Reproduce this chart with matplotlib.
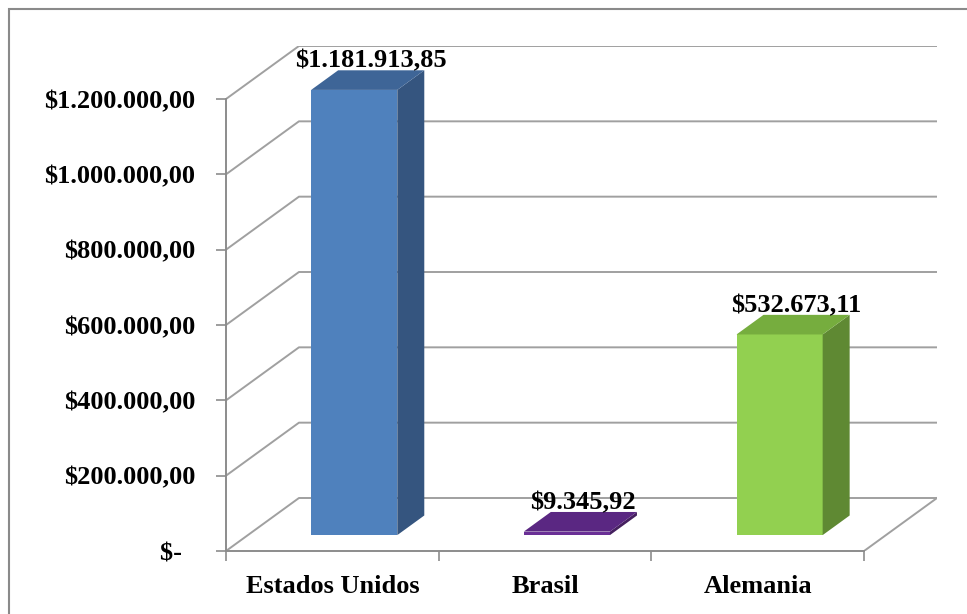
import matplotlib

matplotlib.use("Agg")
import matplotlib.pyplot as plt
from matplotlib.patches import Polygon, Rectangle

paises = ["Estados Unidos", "Brasil", "Alemania"]
montos = [1181913.85, 9345.92, 532673.11]
y_ticks = [0, 200000, 400000, 600000, 800000, 1000000, 1200000]

# front / side / top shades for each bar
colores = [
    ("#4F81BD", "#35557F", "#3E6597"),
    ("#6A2F96", "#45205F", "#5A2782"),
    ("#92D050", "#5F8933", "#76AD3E"),
]

# fake 3d: depth moves things right (in category units) and up (in value units)
DX = 0.343
DV = 140700
BAR_W = 0.405
D0, D1 = 0.30, 0.67
GRID = "#A0A0A0"


def proj(x, v, d):
    return (x + DX * d, v + DV * d)


def pesos(v):
    if v == 0:
        return "$-  "
    s = f"{v:,.2f}"
    s = s.replace(",", "_").replace(".", ",").replace("_", ".")
    return "$" + s


plt.rcParams["font.family"] = ["Liberation Serif", "DejaVu Serif"]
plt.rcParams["font.weight"] = "bold"

fig = plt.figure(figsize=(9.67, 6.14), dpi=100)
W, H = 967, 614
ax = fig.add_axes([226 / W, (H - 551) / H, (937 - 226) / W, (551 - 46) / H])
ax.set_xlim(0, 3 + DX)
ax.set_ylim(0, y_ticks[-1] + DV)
ax.patch.set_alpha(0)

# walls: side diagonals + back lines
for t in y_ticks:
    p0, p1, p2 = proj(0, t, 0), proj(0, t, 1), proj(3, t, 1)
    ax.plot([p0[0], p1[0], p2[0]], [p0[1], p1[1], p2[1]],
            color=GRID, lw=1.4, zorder=1, solid_capstyle="butt")
f0, f1 = proj(3, 0, 0), proj(3, 0, 1)
ax.plot([f0[0], f1[0]], [f0[1], f1[1]], color=GRID, lw=1.4, zorder=1)

for i, (v, (c_front, c_side, c_top)) in enumerate(zip(montos, colores)):
    c = i + 0.5
    l, r = c - BAR_W / 2, c + BAR_W / 2
    front = [proj(l, 0, D0), proj(r, 0, D0), proj(r, v, D0), proj(l, v, D0)]
    side = [proj(r, 0, D0), proj(r, 0, D1), proj(r, v, D1), proj(r, v, D0)]
    top = [proj(l, v, D0), proj(r, v, D0), proj(r, v, D1), proj(l, v, D1)]
    for pts, col in ((front, c_front), (side, c_side), (top, c_top)):
        ax.add_patch(Polygon(pts, closed=True, facecolor=col,
                             edgecolor="none", zorder=3))
    # label sits just above the back edge of the top face
    lx = proj(c, v, (D0 + D1) / 2)[0]
    ly = proj(c, v, D1)[1]
    ax.annotate(pesos(v), (lx, ly), xytext=(2, -1.5), textcoords="offset points",
                ha="center", va="bottom", fontsize=19, fontweight="bold",
                zorder=5)

for side in ("top", "right"):
    ax.spines[side].set_visible(False)
ax.spines["left"].set_bounds(0, y_ticks[-1])
ax.spines["bottom"].set_bounds(0, 3)
for side in ("left", "bottom"):
    ax.spines[side].set_color("#8C8C8C")
    ax.spines[side].set_linewidth(1.4)

ax.set_yticks(y_ticks)
ax.set_yticklabels([pesos(t) for t in y_ticks])
ax.tick_params(axis="y", length=7, width=1.2, color="#8C8C8C", pad=15,
               labelsize=19)

ax.set_xticks([0, 1, 2, 3])
ax.set_xticklabels([])
ax.set_xticks([i + 0.5 for i in range(len(paises))], minor=True)
ax.set_xticklabels(paises, minor=True)
ax.tick_params(axis="x", which="major", length=7, width=1.2, color="#8C8C8C")
ax.tick_params(axis="x", which="minor", length=0, pad=17.5, labelsize=19)

# outer chart frame
fig.patches.append(Rectangle((9 / W, -0.1), 1.2, (H - 9) / H + 0.1,
                             transform=fig.transFigure, fill=False,
                             edgecolor="#8A8A8A", lw=1.5))

fig.savefig("out.png", dpi=100)
